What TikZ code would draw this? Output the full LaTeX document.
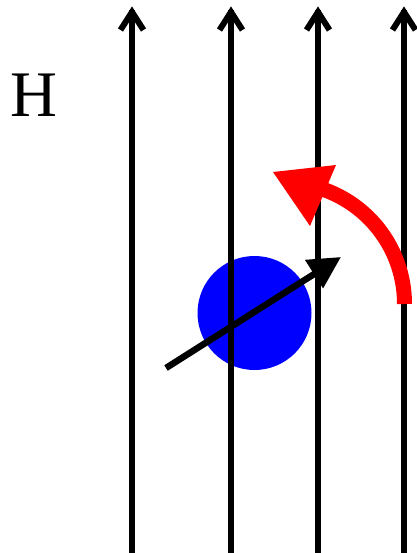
\documentclass[tikz,border=0pt]{standalone}
\usepackage{fontspec}
\setmainfont{Liberation Serif}
\usetikzlibrary{arrows.meta}
\begin{document}
\begin{tikzpicture}[x=1pt,y=-1pt,
  fieldline/.style={line width=5.5pt},
  chevron/.style={line width=6pt, line join=miter, line cap=butt},
  spinarrow/.style={line width=6.5pt, -{Triangle[length=32pt,width=32pt]}}]
\useasboundingbox (0,0) rectangle (416,553);
\fill[white] (0,0) rectangle (416,553);
% blue particle
\fill[blue] (254.5,313) circle (57);
% field lines
\foreach \x/\n in {132/a,231/b,318/c,404/d}{
  \coordinate (bot\n) at (\x,553);
  \coordinate (top\n) at (\x,10);
  \draw[fieldline] (bot\n) -- (top\n);
  \draw[chevron] (\x-11.5,30) -- (\x,12) -- (\x+11.5,30);
}
% magnetic moment arrow
\coordinate (ms) at (166,368);
\coordinate (me) at (341,257);
\draw[spinarrow] (ms) -- (me);
% red precession arrow
\draw[red, line width=15pt] (404.5,304) arc[start angle=0, end angle=-72, radius=121.5];
\fill[red] (273,172) -- (336,165) -- (310,226) -- cycle;
% label
\node[inner sep=0pt, font=\fontsize{65}{65}\selectfont] (H) at (33.5,95.5) {H};
\end{tikzpicture}
\end{document}
